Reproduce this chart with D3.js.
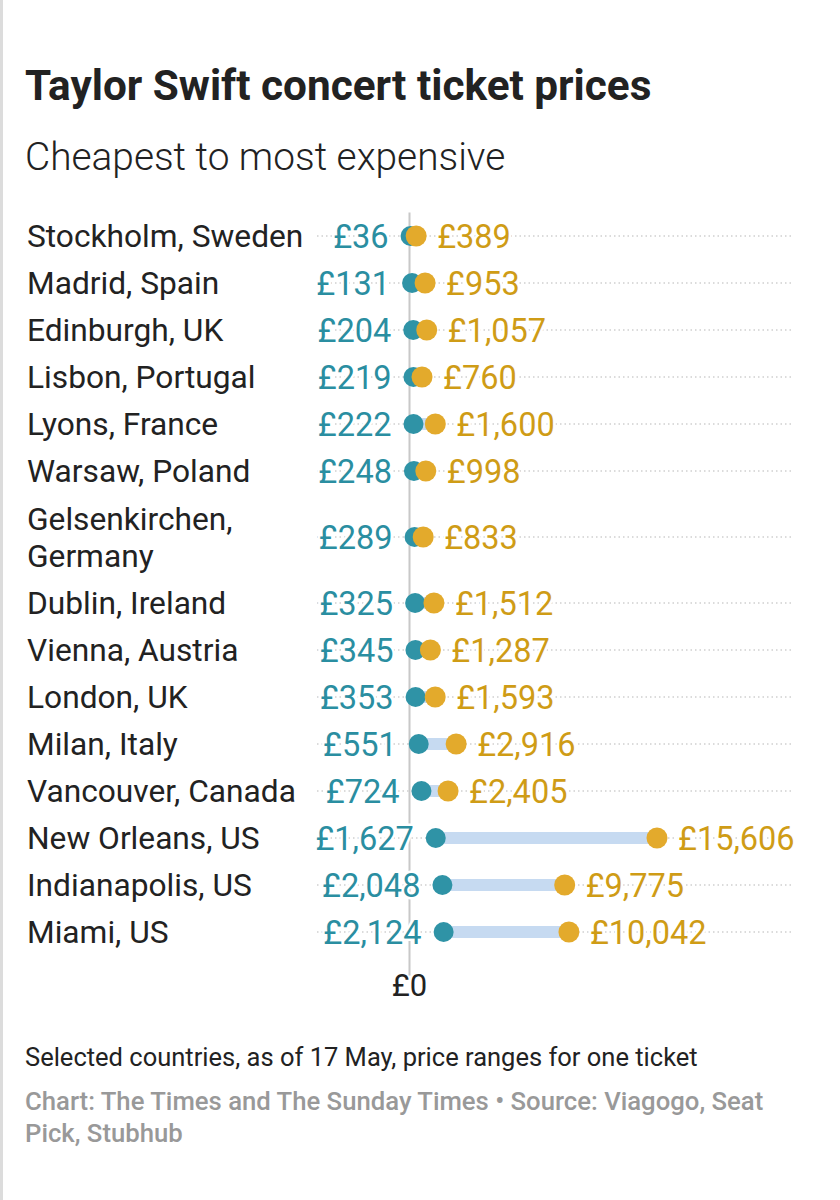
<!DOCTYPE html>
<html>
<head>
<meta charset="utf-8">
<script src="https://cdn.jsdelivr.net/npm/d3@7"></script>
<style>
  html, body { margin: 0; padding: 0; background: #fff; }
  svg { display: block; font-family: Roboto, "Noto Sans", sans-serif; }
</style>
</head>
<body>
<svg id="chart" width="840" height="1200"></svg>
<script>
// ---- data ----
const cities = [
  ["Stockholm, Sweden"],
  ["Madrid, Spain"],
  ["Edinburgh, UK"],
  ["Lisbon, Portugal"],
  ["Lyons, France"],
  ["Warsaw, Poland"],
  ["Gelsenkirchen,", "Germany"],
  ["Dublin, Ireland"],
  ["Vienna, Austria"],
  ["London, UK"],
  ["Milan, Italy"],
  ["Vancouver, Canada"],
  ["New Orleans, US"],
  ["Indianapolis, US"],
  ["Miami, US"]
];
const cheapest = [36, 131, 204, 219, 222, 248, 289, 325, 345, 353, 551, 724, 1627, 2048, 2124];
const mostExpensive = [389, 953, 1057, 760, 1600, 998, 833, 1512, 1287, 1593, 2916, 2405, 15606, 9775, 10042];
const xTicks = [0];
const title = "Taylor Swift concert ticket prices";
const subtitle = "Cheapest to most expensive";
const note = "Selected countries, as of 17 May, price ranges for one ticket";
const sourceLines = ["Chart: The Times and The Sunday Times \u2022 Source: Viagogo, Seat", "Pick, Stubhub"];

// ---- styles ----
const TEAL = "#2f93a6", GOLD = "#e3aa2c";
const TEAL_TXT = "#2a8ea1", GOLD_TXT = "#cf9c16";
const BAR = "#c6daf1";

const svg = d3.select("#chart");

// left border
svg.append("rect").attr("x", 0).attr("y", 0).attr("width", 3).attr("height", 1200).attr("fill", "#dcdcdc");

svg.append("text").attr("x", 25).attr("y", 100)
  .attr("font-size", 42.3).attr("font-weight", 700).attr("fill", "#222").text(title);
svg.append("text").attr("x", 25).attr("y", 170)
  .attr("font-size", 38.8).attr("font-weight", 300).attr("fill", "#222").text(subtitle);

// ---- scales ----
const x = d3.scaleLinear().domain([0, 24200]).range([410, 793]);
const rowUnits = cities.map(c => 1 + (c.length - 1) * 38 / 47);
const tops = [0, ...d3.cumsum(rowUnits)];
const yUnit = d3.scaleLinear().domain([0, 1]).range([212.5, 259.5]);
const yCenter = i => yUnit(tops[i] + rowUnits[i] / 2);

const data = cities.map((c, i) => ({ lines: c, lo: cheapest[i], hi: mostExpensive[i], y: yCenter(i) }));

// grid lines
svg.append("g").selectAll("line").data(data).join("line")
  .attr("x1", 317).attr("x2", 793)
  .attr("y1", d => d.y).attr("y2", d => d.y)
  .attr("stroke", "#cfcfcf").attr("stroke-width", 1.5).attr("stroke-dasharray", "1.5,3");

// zero line
const yTop = yUnit(0), yBot = yUnit(tops[tops.length - 1]);
svg.append("g").selectAll("line").data(xTicks).join("line")
  .attr("x1", d => x(d) - 0.5).attr("x2", d => x(d) - 0.5)
  .attr("y1", yTop).attr("y2", yBot + 20)
  .attr("stroke", "#c8c8c8").attr("stroke-width", 2);

svg.append("g").selectAll("text").data(xTicks).join("text")
  .attr("x", d => x(d) - 0.5).attr("y", 996)
  .attr("text-anchor", "middle").attr("font-size", 31).attr("fill", "#222")
  .text(d => "£" + d);

// bars
svg.append("g").selectAll("line").data(data).join("line")
  .attr("x1", d => x(d.lo)).attr("x2", d => x(d.hi))
  .attr("y1", d => d.y).attr("y2", d => d.y)
  .attr("stroke", BAR).attr("stroke-width", 12);

// dots
svg.append("g").selectAll("circle").data(data).join("circle")
  .attr("cx", d => x(d.lo)).attr("cy", d => d.y).attr("r", 10).attr("fill", TEAL);
svg.append("g").selectAll("circle").data(data).join("circle")
  .attr("cx", d => x(d.hi)).attr("cy", d => d.y).attr("r", 10.5).attr("fill", GOLD);

const fmt = v => "£" + d3.format(",")(v);

// value labels
svg.append("g").selectAll("text").data(data).join("text")
  .attr("x", d => x(d.lo) - 22).attr("y", d => d.y).attr("dy", "0.36em")
  .attr("text-anchor", "end").attr("font-size", 32.5).attr("fill", TEAL_TXT)
  .attr("stroke", "#fff").attr("stroke-width", 5).attr("paint-order", "stroke")
  .text(d => fmt(d.lo));
svg.append("g").selectAll("text").data(data).join("text")
  .attr("x", d => x(d.hi) + 21).attr("y", d => d.y).attr("dy", "0.36em")
  .attr("text-anchor", "start").attr("font-size", 32.5).attr("fill", GOLD_TXT)
  .attr("stroke", "#fff").attr("stroke-width", 5).attr("paint-order", "stroke")
  .text(d => fmt(d.hi));

// row labels
const lab = svg.append("g").selectAll("text").data(data).join("text")
  .attr("x", 27).attr("font-size", 31.7).attr("fill", "#222")
  .attr("y", d => d.y - (d.lines.length - 1) * 37 / 2);
lab.selectAll("tspan").data(d => d.lines).join("tspan")
  .attr("x", 27).attr("dy", (d, i) => i === 0 ? "0.36em" : 37)
  .text(d => d);

// footer
svg.append("text").attr("x", 25).attr("y", 1066)
  .attr("font-size", 25.5).attr("fill", "#222").text(note);
svg.append("g").selectAll("text").data(sourceLines).join("text")
  .attr("x", 25).attr("y", (d, i) => 1110 + i * 32)
  .attr("font-size", 25.7).attr("font-weight", 500).attr("fill", "#999").text(d => d);
</script>
</body>
</html>
